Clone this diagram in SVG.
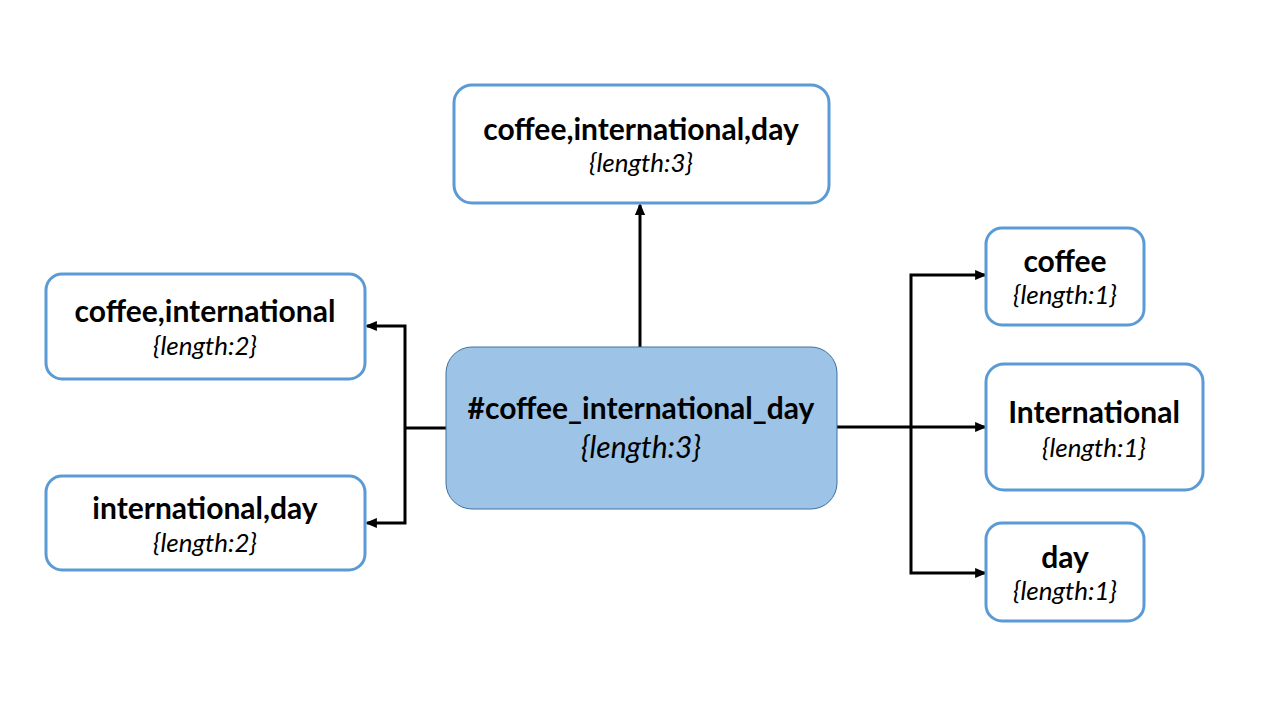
<svg xmlns="http://www.w3.org/2000/svg" width="1280" height="720" viewBox="0 0 1280 720">
<style>
.box{fill:#ffffff;stroke:#5B9BD5;stroke-width:3}
.main{fill:#9DC3E6;stroke:#41719C;stroke-width:1}
.t{font-family:Lato,"Liberation Sans",sans-serif;font-weight:bold;font-size:30px;fill:#000;text-anchor:middle}
.s{font-family:Lato,"Liberation Sans",sans-serif;font-style:italic;font-size:26px;fill:#000;text-anchor:middle}
.c{fill:none;stroke:#000;stroke-width:3}
</style>
<defs>
<marker id="ah" markerWidth="4" markerHeight="4" refX="3.3" refY="2" orient="auto" markerUnits="strokeWidth">
<path d="M0,0.3 L4,2 L0,3.7 Z" fill="#000"/>
</marker>
</defs>
<rect width="1280" height="720" fill="#fff"/>
<g id="connectors">
<path class="c" d="M640,347 V205" marker-end="url(#ah)"/>
<path class="c" d="M446,428 H405"/>
<path class="c" d="M405,428 V326 H367" marker-end="url(#ah)"/>
<path class="c" d="M405,428 V523 H367" marker-end="url(#ah)"/>
<path class="c" d="M837,427 H985" marker-end="url(#ah)"/>
<path class="c" d="M911,427 V275 H985" marker-end="url(#ah)"/>
<path class="c" d="M911,427 V573 H985" marker-end="url(#ah)"/>
</g>
<g id="node-main">
<rect class="main" x="446" y="347" width="391" height="162" rx="26"/>
<text class="t" x="641" y="419">#coffee_international_day</text>
<text class="s" x="641" y="458" style="font-size:30px">{length:3}</text>
</g>
<g id="node-top">
<rect class="box" x="454" y="85" width="375" height="118" rx="18"/>
<text class="t" x="641" y="140">coffee,international,day</text>
<text class="s" x="641" y="172">{length:3}</text>
</g>
<g id="node-left-top">
<rect class="box" x="46" y="274" width="319" height="105" rx="16"/>
<text class="t" x="205" y="322">coffee,international</text>
<text class="s" x="205" y="355">{length:2}</text>
</g>
<g id="node-left-bottom">
<rect class="box" x="46" y="476" width="319" height="94" rx="16"/>
<text class="t" x="205" y="519">international,day</text>
<text class="s" x="205" y="552">{length:2}</text>
</g>
<g id="node-coffee">
<rect class="box" x="986" y="228" width="158" height="97" rx="16"/>
<text class="t" x="1065" y="272">coffee</text>
<text class="s" x="1065" y="304">{length:1}</text>
</g>
<g id="node-international">
<rect class="box" x="986" y="364" width="217" height="126" rx="18"/>
<text class="t" x="1094" y="423">International</text>
<text class="s" x="1094" y="457">{length:1}</text>
</g>
<g id="node-day">
<rect class="box" x="986" y="523" width="158" height="98" rx="16"/>
<text class="t" x="1065" y="568">day</text>
<text class="s" x="1065" y="600">{length:1}</text>
</g>
</svg>
